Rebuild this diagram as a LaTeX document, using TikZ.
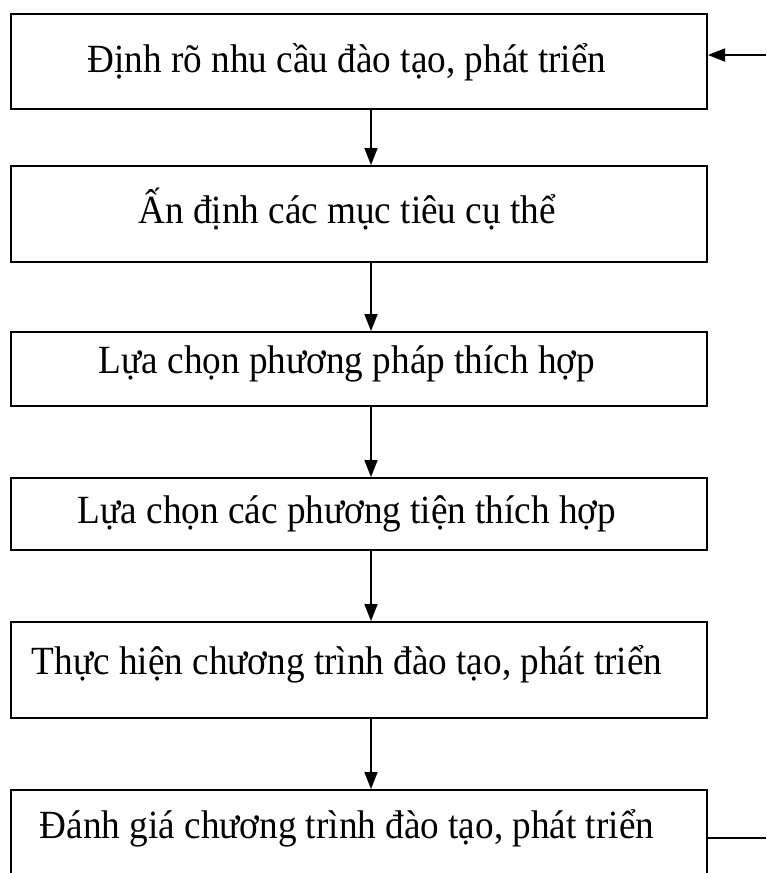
\documentclass[tikz,border=0pt]{standalone}
\usepackage{fontspec}
\setmainfont{Liberation Serif}[FakeStretch=0.93]
\usetikzlibrary{arrows.meta}

\begin{document}
\begin{tikzpicture}[x=1pt,y=1pt,
  stepbox/.style={draw=black,line width=2pt,minimum width=696pt,inner sep=0pt,
    text height=28pt,text depth=9pt,font=\fontsize{40}{46}\selectfont,
    execute at end node={\hspace*{24pt}}},
  flow/.style={black,line width=1.8pt,-{Triangle[length=17pt,width=13pt]}}]
\useasboundingbox (0,0) rectangle (766,-873);
\node[stepbox,minimum height=95pt,text depth=6pt] (b1) at (359,-61.5) {Định rõ nhu cầu đào tạo, phát triển};
\node[stepbox,minimum height=96pt] (b2) at (359,-214) {Ấn định các mục tiêu cụ thể};
\node[stepbox,minimum height=74pt,text depth=19pt] (b3) at (359,-369) {Lựa chọn phương pháp thích hợp};
\node[stepbox,minimum height=72pt] (b4) at (359,-514) {Lựa chọn các phương tiện thích hợp};
\node[stepbox,minimum height=96pt,text depth=20pt] (b5) at (359,-670) {Thực hiện chương trình đào tạo, phát triển};
\node[stepbox,minimum height=120pt,text depth=52pt] (b6) at (359,-850) {Đánh giá chương trình đào tạo, phát triển};
\draw [flow] ([xshift=12pt]b1.south) -- ([xshift=12pt]b2.north);
\draw [flow] ([xshift=12pt]b2.south) -- ([xshift=12pt]b3.north);
\draw [flow] ([xshift=12pt]b3.south) -- ([xshift=12pt]b4.north);
\draw [flow] ([xshift=12pt]b4.south) -- ([xshift=12pt]b5.north);
\draw [flow] ([xshift=12pt]b5.south) -- ([xshift=12pt]b6.north);
% feedback loop
\coordinate (fbin) at (766,-55);
\coordinate (fbout) at (766,-838);
\draw [flow] (fbin) -- (fbin -| b1.east);
\draw [black,line width=1.5pt] (b6.east |- fbout) -- (fbout);
\end{tikzpicture}
\end{document}
